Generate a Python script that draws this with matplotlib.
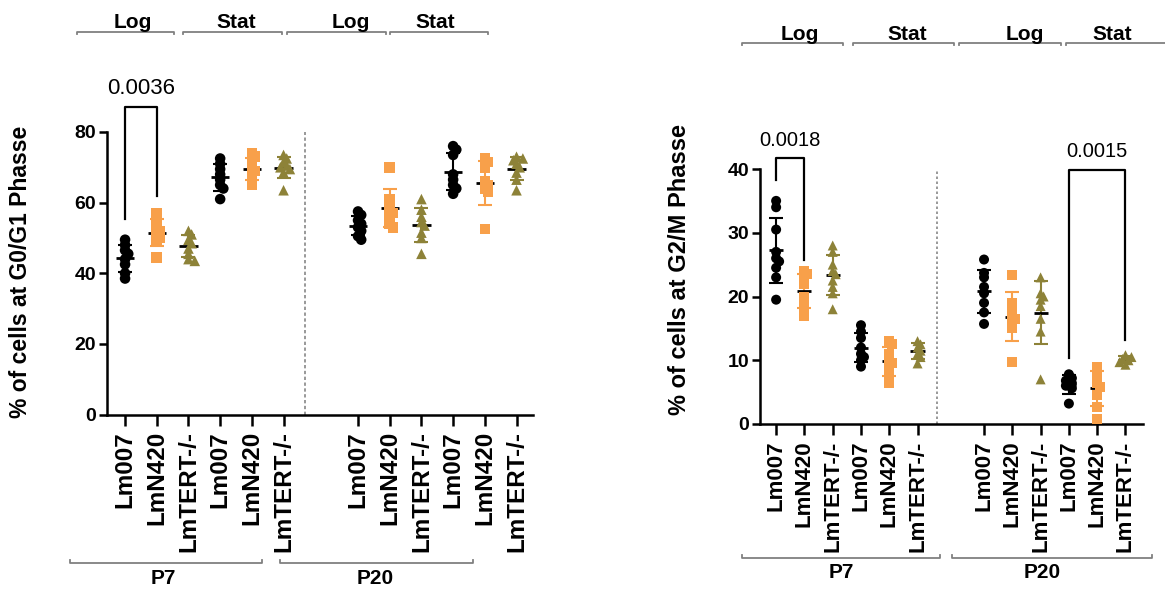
import numpy as np
import matplotlib
matplotlib.use('Agg')
import matplotlib.pyplot as plt
import matplotlib.transforms as mtransforms

plt.rcParams['font.family'] = ['Liberation Sans', 'DejaVu Sans']

# ---------------- data ----------------
strains = ['Lm007', 'LmN420', 'LmTERT-/-']
phases = ['Log', 'Stat']
passages = ['P7', 'P20']

# G0/G1 phase (%), each list: [Lm007, LmN420, LmTERT-/-]
g1_p7_log = [[49.5, 48, 46.5, 45.5, 44, 42.5, 40, 38.5],
             [57, 55, 53, 52, 51, 50, 49, 44.5],
             [52, 51, 49.5, 48.5, 47, 45.5, 44, 43.5]]
g1_p7_stat = [[72.5, 71, 69.5, 68, 66.5, 65, 64, 61],
              [74, 73, 71.5, 70, 69, 68, 66.5, 65],
              [73.5, 72.5, 71.5, 70.5, 70, 69.5, 68.5, 63.5]]
g1_p20_log = [[57.5, 56.5, 55, 54, 53, 52, 50.5, 49.5],
              [70, 61, 59.5, 58, 57, 55.5, 54, 53],
              [61, 58, 56, 54.5, 53.5, 51.5, 50, 45.5]]
g1_p20_stat = [[76, 75, 73.5, 68, 66.5, 65, 64, 62.5],
               [72.5, 71.5, 70, 66, 65, 64, 63, 52.5],
               [73, 72.5, 72, 71, 70, 68.5, 66.5, 63.5]]

# G2/M phase (%)
g2_p7_log = [[35, 34, 30.5, 27, 26, 25.5, 24.5, 23, 19.5],
             [24, 23.5, 23, 22, 20, 19, 18, 17],
             [28, 27, 25, 24, 23.5, 22.5, 21.5, 20.5, 18]]
g2_p7_stat = [[15.5, 14.5, 13.5, 12, 11, 10.5, 10, 9],
              [13, 12.5, 11, 10, 9.5, 8.5, 7.5, 6.5],
              [13, 12.5, 12, 11.5, 11, 10.5, 9.5]]
g2_p20_log = [[25.8, 23.7, 23, 21.5, 20.5, 19, 17.5, 15.7],
              [23.4, 19, 18, 17, 16.5, 16, 15, 9.7],
              [23, 20.5, 20, 19.5, 18.5, 16.5, 14.5, 7]]
g2_p20_stat = [[7.8, 7.2, 6.8, 6.4, 6, 5.6, 3.2],
               [9, 8.3, 7.2, 6.4, 5.8, 4.5, 2.7, 0.8],
               [10.8, 10.5, 10.2, 10, 9.7, 9.3]]

g1_ticks = [0, 20, 40, 60, 80]
g2_ticks = [0, 10, 20, 30, 40]
g1_pvals = ['0.0036']
g2_pvals = ['0.0018', '0.0015']

colors = ['black', '#F8A04A', '#8D8238']
markers = ['o', 's', '^']

W, H = 1165, 595
fig = plt.figure(figsize=(W / 100, H / 100), dpi=100)


def rect(l, t, r, b):
    return [l / W, 1 - b / H, (r - l) / W, (b - t) / H]


GAP = 7.35
xpos = np.concatenate([np.arange(6), np.arange(6) + GAP])


def swarm_offsets(ax, xc, vals, diam):
    tr = ax.transData
    ypx = tr.transform(np.column_stack([np.full(len(vals), xc), vals]))[:, 1]
    unit = (tr.transform((1, 0)) - tr.transform((0, 0)))[0]
    order = np.argsort(vals)[::-1]
    placed = []
    off = np.zeros(len(vals))
    for i in order:
        y = ypx[i]
        for k in [0, 1, -1, 2, -2, 3, -3]:
            dx = k * diam * 0.3
            if all((dx - px) ** 2 + (y - py) ** 2 >= (diam * 0.42) ** 2 for px, py in placed):
                break
        placed.append((dx, y))
        off[i] = dx / unit
    return off


def panel(ax, groups, ylim, yticks, xlim, tick_fs, msize, mean_hw, sep_style):
    ax.set_xlim(*xlim)
    ax.set_ylim(*ylim)
    for s in ['top', 'right']:
        ax.spines[s].set_visible(False)
    for s in ['left', 'bottom']:
        ax.spines[s].set_linewidth(1.8)
    ax.set_yticks(yticks)
    ax.set_xticks(xpos)
    ax.set_xticklabels(strains * 4, rotation=90, fontsize=tick_fs, fontweight='bold')
    ax.tick_params(axis='x', length=8, width=1.8, pad=4)
    ax.tick_params(axis='y', length=6, width=1.8, labelsize=14, pad=2)
    for lab in ax.get_yticklabels():
        lab.set_fontweight('bold')
    diam = msize * 100 / 72
    i = 0
    for grp in groups:
        for j, vals in enumerate(grp):
            xc = xpos[i]
            vals = np.asarray(vals, float)
            m, sd = vals.mean(), vals.std(ddof=1)
            c = colors[j]
            ax.errorbar([xc], [m], yerr=[sd], color=c, capsize=5, capthick=1.5,
                        elinewidth=1.5, fmt='none', zorder=2)
            ax.plot([xc - mean_hw, xc + mean_hw], [m, m], color='black', lw=2, zorder=2.5,
                    solid_capstyle='butt')
            off = swarm_offsets(ax, xc, vals, diam)
            ax.scatter(xc + off, vals, marker=markers[j], s=msize ** 2, color=c,
                       edgecolors='none', zorder=3, clip_on=False)
            i += 1
    sep = (xpos[5] + xpos[6]) / 2 - 0.5
    ax.plot([sep, sep], ylim, color='#888888', lw=1.2, linestyle=sep_style, zorder=1)


def bracket_h(ax, x0, x1, ypix, tick, color='#808080', lw=1.3):
    tr = mtransforms.blended_transform_factory(ax.transData, fig.transFigure)
    y = 1 - ypix / H
    dy = tick / H
    ax.plot([x0, x0, x1, x1], [y + dy, y, y, y + dy], transform=tr, color=color, lw=lw,
            clip_on=False)


def label_at(ax, x, ypix, txt, fs, va='baseline', weight='bold'):
    tr = mtransforms.blended_transform_factory(ax.transData, fig.transFigure)
    ax.text(x, 1 - ypix / H, txt, transform=tr, ha='center', va=va, fontsize=fs,
            fontweight=weight, clip_on=False)


def sig(ax, x0, x1, ytop, yl, yr, txt, ytxt, fs):
    ax.plot([x0, x0, x1, x1], [yl, ytop, ytop, yr], color='black', lw=1.6, clip_on=False,
            zorder=4)
    ax.text((x0 + x1) / 2, ytxt, txt, ha='center', va='center', fontsize=fs, clip_on=False)


# ---------------- left panel ----------------
ax1 = fig.add_axes(rect(107, 132, 533, 414.5))
panel(ax1, [g1_p7_log, g1_p7_stat, g1_p20_log, g1_p20_stat], (0, 80), g1_ticks,
      (-0.57, 12.87), 17.5, 7.6, 0.29, (0, (2, 1.5)))
sig(ax1, xpos[0], xpos[1], 87.2, 55.3, 61.9, g1_pvals[0], 92.3, 16)
for (a, b), tx, ph in zip([(-1.51, 1.55), (1.83, 4.95), (5.11, 8.23), (8.36, 11.45)],
                          [0.25, 3.5, 7.13, 9.78], phases * 2):
    bracket_h(ax1, a, b, 31.7, -2.5)
    label_at(ax1, tx, 27.5, ph, 15)
for (a, b), tx, ps in zip([(-1.74, 4.32), (4.89, 10.98)], [1.2, 7.89], passages):
    bracket_h(ax1, a, b, 563, 3)
    label_at(ax1, tx, 579, ps, 15, va='center')
fig.text(21 / W, 1 - 272 / H, '% of cells at G0/G1 Phasse', rotation=90, ha='center',
         va='center', fontsize=16.5, fontweight='bold')

# ---------------- right panel ----------------
ax2 = fig.add_axes(rect(760, 169, 1143, 424))
panel(ax2, [g2_p7_log, g2_p7_stat, g2_p20_log, g2_p20_stat], (0, 40), g2_ticks,
      (-0.57, 12.97), 16, 7.2, 0.25, (0, (1.5, 1.5)))
sig(ax2, xpos[0], xpos[1], 41.8, 38.3, 25.7, g2_pvals[0], 44.5, 14.5)
sig(ax2, xpos[9], xpos[11], 39.8, 10.3, 13.2, g2_pvals[1], 42.7, 14.5)
for (a, b), tx, ph in zip([(-1.21, 2.37), (2.71, 6.29), (6.47, 10.07), (10.25, 13.85)],
                          [0.85, 4.63, 8.8, 11.87], phases * 2):
    bracket_h(ax2, a, b, 42.7, -2.5)
    label_at(ax2, tx, 39.5, ph, 15)
for (a, b), tx, ps in zip([(-1.21, 5.8), (6.22, 13.28)], [2.32, 9.4], passages):
    bracket_h(ax2, a, b, 558, 3)
    label_at(ax2, tx, 572, ps, 15, va='center')
fig.text(680 / W, 1 - 270 / H, '% of cells at G2/M Phasse', rotation=90, ha='center',
         va='center', fontsize=17, fontweight='bold')

fig.savefig('out.png', dpi=100)
